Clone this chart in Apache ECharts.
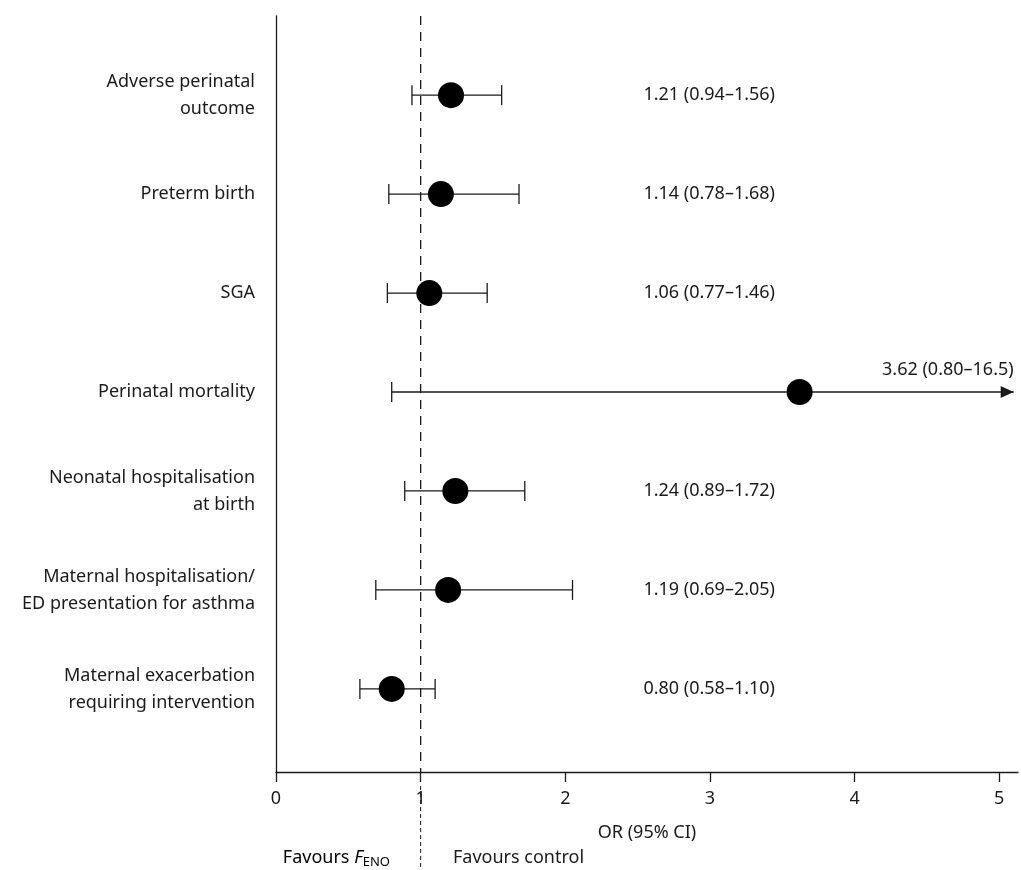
<!DOCTYPE html>
<html>
<head>
<meta charset="utf-8">
<script src="https://cdn.jsdelivr.net/npm/echarts@6/dist/echarts.min.js"></script>
<style>
  html, body { margin: 0; padding: 0; background: #fff; }
  #chart { width: 1021px; height: 870px; }
</style>
</head>
<body>
<div id="chart"></div>
<script>
// 数据
const outcomes = [
  'Adverse perinatal\noutcome',
  'Preterm birth',
  'SGA',
  'Perinatal mortality',
  'Neonatal hospitalisation\nat birth',
  'Maternal hospitalisation/\nED presentation for asthma',
  'Maternal exacerbation\nrequiring intervention'
]
const oddsRatio = [1.21, 1.14, 1.06, 3.62, 1.24, 1.19, 0.80]
const ciLow = [0.94, 0.78, 0.77, 0.80, 0.89, 0.69, 0.58]
const ciHigh = [1.56, 1.68, 1.46, 16.5, 1.72, 2.05, 1.10]
const ciText = [
  '1.21 (0.94–1.56)',
  '1.14 (0.78–1.68)',
  '1.06 (0.77–1.46)',
  '3.62 (0.80–16.5)',
  '1.24 (0.89–1.72)',
  '1.19 (0.69–2.05)',
  '0.80 (0.58–1.10)'
]
const xTicks = [0, 1, 2, 3, 4, 5]
const rows = outcomes.map((_, i) => i + 1)

const FONT = 'Noto Sans'
const FS = 18
const INK = '#1a1a1a'
const X_MAX = 5.13
const ARROW_TIP = 5.1
const TEXT_X = 2.54
const NULL_LINE = 1

const chart = echarts.init(document.getElementById('chart'))

// 置信区间 + 数值文本
const ciItem = (params, api) => {
  const row = api.value(0)
  const lo = api.value(1)
  const hi = api.value(2)
  const idx = api.value(3)
  const clipped = hi > X_MAX
  const p0 = api.coord([lo, row])
  const p1 = api.coord([clipped ? ARROW_TIP : hi, row])
  const cap = 10
  const line = { stroke: INK, lineWidth: 1.3 }
  const children = [
    { type: 'line', shape: { x1: p0[0], y1: p0[1], x2: p1[0], y2: p1[1] }, style: line },
    { type: 'line', shape: { x1: p0[0], y1: p0[1] - cap, x2: p0[0], y2: p0[1] + cap }, style: line }
  ]
  if (clipped) {
    children.push({
      type: 'polygon',
      shape: { points: [[p1[0], p1[1]], [p1[0] - 13, p1[1] - 6], [p1[0] - 13, p1[1] + 6]] },
      style: { fill: INK }
    })
    children.push({
      type: 'text',
      style: {
        x: p1[0], y: p1[1] - 22, text: ciText[idx], align: 'right', verticalAlign: 'middle',
        fontFamily: FONT, fontSize: FS, fill: INK
      }
    })
  } else {
    children.push({ type: 'line', shape: { x1: p1[0], y1: p1[1] - cap, x2: p1[0], y2: p1[1] + cap }, style: line })
    const t = api.coord([TEXT_X, row])
    children.push({
      type: 'text',
      style: {
        x: t[0], y: t[1], text: ciText[idx], align: 'left', verticalAlign: 'middle',
        fontFamily: FONT, fontSize: FS, fill: INK
      }
    })
  }
  return { type: 'group', children }
}

// 参考虚线（延伸到坐标轴下方）
const nullLineItem = (params, api) => {
  const top = api.coord([NULL_LINE, 0.2])
  const bottom = api.coord([NULL_LINE, 7.84])
  return {
    type: 'group',
    children: [
      { type: 'line', shape: { x1: top[0], y1: top[1], x2: bottom[0], y2: bottom[1] },
        style: { stroke: INK, lineWidth: 1.3, lineDash: [9, 7] } },
      { type: 'line', shape: { x1: bottom[0], y1: bottom[1] + 14, x2: bottom[0], y2: bottom[1] + 96 },
        style: { stroke: INK, lineWidth: 1, lineDash: [4, 3] } }
    ]
  }
}

const option = {
  animation: false,
  textStyle: { fontFamily: FONT },
  grid: { left: 276, right: 3, top: 16, bottom: 98 },
  xAxis: {
    type: 'value',
    min: 0,
    max: X_MAX,
    name: 'OR (95% CI)',
    nameLocation: 'middle',
    nameGap: 52,
    nameTextStyle: { fontFamily: FONT, fontSize: FS, color: INK },
    axisLine: { show: true, lineStyle: { color: INK, width: 1.3 } },
    axisTick: { show: true, length: 10, customValues: xTicks, lineStyle: { color: INK, width: 1.3 } },
    axisLabel: { customValues: xTicks, margin: 18, fontFamily: FONT, fontSize: FS, color: INK },
    splitLine: { show: false }
  },
  yAxis: {
    type: 'value',
    min: 0.2,
    max: 7.84,
    inverse: true,
    axisLine: { show: true, onZero: false, lineStyle: { color: INK, width: 1.3 } },
    axisTick: { show: false },
    splitLine: { show: false },
    axisLabel: {
      customValues: rows,
      formatter: (v) => outcomes[v - 1] || '',
      margin: 21,
      align: 'right',
      lineHeight: 27,
      fontFamily: FONT,
      fontSize: FS,
      color: INK
    }
  },
  graphic: [
    {
      type: 'text',
      x: 390, y: 858,
      style: {
        text: '{a|Favours }{f|F}{s|ENO}',
        align: 'right',
        verticalAlign: 'middle',
        rich: {
          a: { fontFamily: FONT, fontSize: FS, color: INK },
          f: { fontFamily: FONT, fontSize: FS, fontStyle: 'italic', color: INK },
          s: { fontFamily: FONT, fontSize: 13, color: INK, verticalAlign: 'bottom', padding: [9, 0, 0, 0] }
        }
      }
    },
    {
      type: 'text',
      x: 453, y: 858,
      style: {
        text: 'Favours control', align: 'left', verticalAlign: 'middle',
        fontFamily: FONT, fontSize: FS, fill: INK
      }
    }
  ],
  series: [
    {
      type: 'custom',
      renderItem: nullLineItem,
      clip: false,
      silent: true,
      data: [[NULL_LINE, 1]],
      encode: { x: 0, y: 1 },
      z: 1
    },
    {
      type: 'custom',
      renderItem: ciItem,
      clip: false,
      data: rows.map((r, i) => [r, ciLow[i], ciHigh[i], i]),
      encode: { x: [1, 2], y: 0 },
      z: 2
    },
    {
      type: 'scatter',
      symbol: 'circle',
      symbolSize: 26,
      itemStyle: { color: '#000', opacity: 1 },
      data: rows.map((r, i) => [oddsRatio[i], r]),
      z: 3
    }
  ]
}

chart.setOption(option)
window.addEventListener('resize', () => chart.resize())
</script>
</body>
</html>
